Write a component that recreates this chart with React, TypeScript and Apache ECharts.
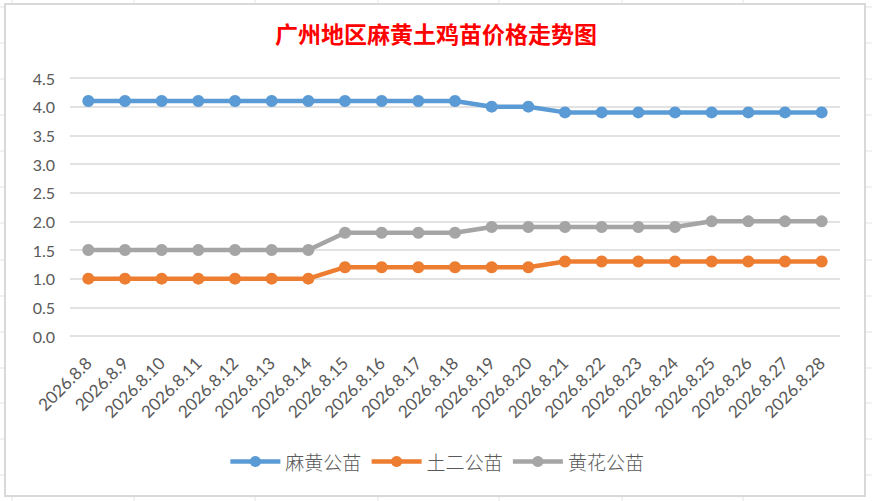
import React, { useEffect, useRef } from "react";
import * as echarts from "echarts";

const titleText = "广州地区麻黄土鸡苗价格走势图";
const categories = [
  "2026.8.8", "2026.8.9", "2026.8.10", "2026.8.11", "2026.8.12", "2026.8.13", "2026.8.14",
  "2026.8.15", "2026.8.16", "2026.8.17", "2026.8.18", "2026.8.19", "2026.8.20", "2026.8.21",
  "2026.8.22", "2026.8.23", "2026.8.24", "2026.8.25", "2026.8.26", "2026.8.27", "2026.8.28",
];
const seriesNames = ["麻黄公苗", "土二公苗", "黄花公苗"];
const mahuang = [4.1, 4.1, 4.1, 4.1, 4.1, 4.1, 4.1, 4.1, 4.1, 4.1, 4.1, 4.0, 4.0, 3.9, 3.9, 3.9, 3.9, 3.9, 3.9, 3.9, 3.9];
const tuer = [1.0, 1.0, 1.0, 1.0, 1.0, 1.0, 1.0, 1.2, 1.2, 1.2, 1.2, 1.2, 1.2, 1.3, 1.3, 1.3, 1.3, 1.3, 1.3, 1.3, 1.3];
const huanghua = [1.5, 1.5, 1.5, 1.5, 1.5, 1.5, 1.5, 1.8, 1.8, 1.8, 1.8, 1.9, 1.9, 1.9, 1.9, 1.9, 1.9, 2.0, 2.0, 2.0, 2.0];
const colors = ["#5b9bd5", "#ed7d31", "#a5a5a5"];

const colLines = [12, 134, 255, 378, 499, 622, 743];
const rowLines = [7, 43, 79, 115, 151, 187, 223, 260, 296, 332, 368, 403, 439, 475];

export default function App() {
  const ref = useRef<HTMLDivElement>(null);
  useEffect(() => {
    document.body.style.margin = "0";
    const chart = echarts.init(ref.current!, undefined, { renderer: "svg" });
    const bg: any[] = [];
    colLines.forEach((x) =>
      bg.push({ type: "line", shape: { x1: x, y1: 0, x2: x, y2: 501 }, style: { stroke: "#e3e3e3", lineWidth: 1 }, z: -10 })
    );
    rowLines.forEach((y) =>
      bg.push({ type: "line", shape: { x1: 0, y1: y, x2: 872, y2: y }, style: { stroke: "#e3e3e3", lineWidth: 1 }, z: -10 })
    );
    bg.push({
      type: "rect",
      shape: { x: 5, y: 4, width: 860, height: 492 },
      style: { fill: "#ffffff", stroke: "#d9d9d9", lineWidth: 2 },
      z: -5,
    });
    const mk = (name: string, data: number[], color: string) => ({
      name,
      type: "line",
      data,
      symbol: "circle",
      symbolSize: 12,
      itemStyle: { color },
      lineStyle: { color, width: 4.5 },
    });
    chart.setOption({
      animation: false,
      backgroundColor: "#ffffff",
      title: {
        text: titleText,
        left: "center",
        top: 16,
        textStyle: { color: "#ff0000", fontSize: 23, fontWeight: "bold", fontFamily: "Noto Sans CJK SC" },
      },
      graphic: bg,
      grid: { left: 70, right: 32, top: 78, bottom: 165 },
      legend: {
        bottom: 25,
        left: "center",
        itemWidth: 50,
        itemHeight: 14,
        itemGap: 8,
        lineStyle: { width: 4.5 },
        textStyle: { color: "#595959", fontSize: 19, fontFamily: "Noto Sans CJK SC", fontWeight: 300 },
        data: seriesNames,
      },
      xAxis: {
        type: "category",
        data: categories,
        boundaryGap: true,
        axisLine: { show: false },
        axisTick: { show: false },
        axisLabel: { rotate: 45, color: "#595959", fontSize: 17, fontFamily: "Lato", margin: 24, interval: 0 },
      },
      yAxis: {
        type: "value",
        min: 0,
        max: 4.5,
        interval: 0.5,
        axisLine: { show: false },
        axisTick: { show: false },
        axisLabel: {
          color: "#595959",
          fontSize: 16,
          fontFamily: "Lato",
          margin: 15,
          formatter: (v: number) => v.toFixed(1),
        },
        splitLine: { lineStyle: { color: "#d9d9d9", width: 1.5 } },
      },
      series: [
        mk(seriesNames[0], mahuang, colors[0]),
        mk(seriesNames[1], tuer, colors[1]),
        mk(seriesNames[2], huanghua, colors[2]),
      ],
    });
    return () => chart.dispose();
  }, []);
  return <div ref={ref} style={{ width: 872, height: 501, position: "absolute", left: 0, top: 0 }} />;
}
